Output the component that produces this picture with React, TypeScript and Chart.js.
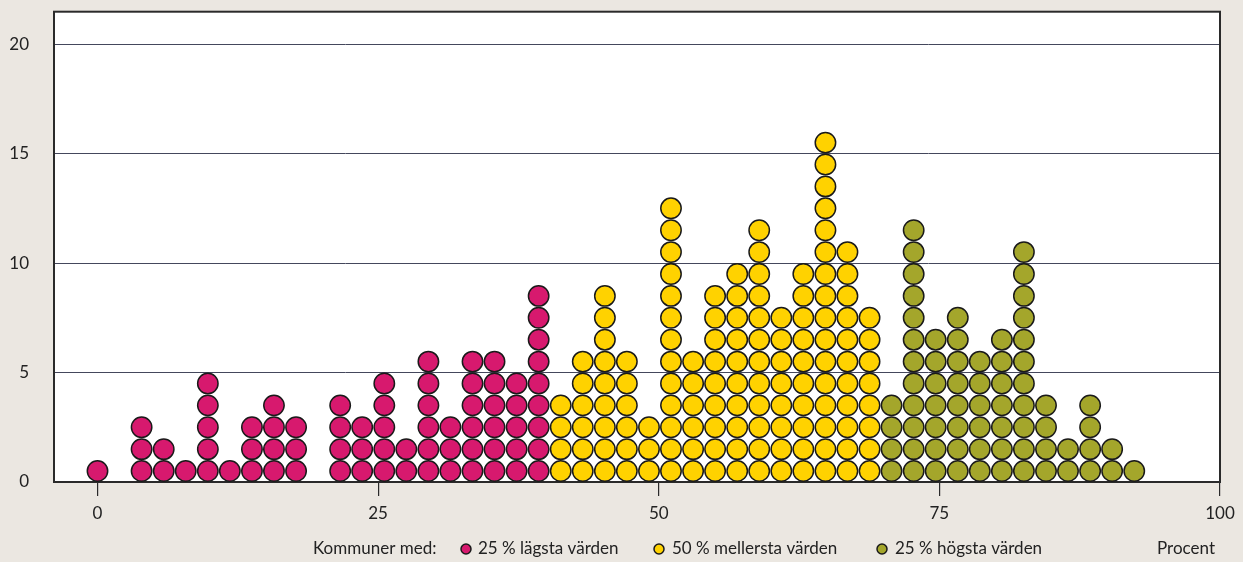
import React, { useEffect, useRef } from "react";
import { Chart, registerables } from "chart.js";

Chart.register(...registerables);

// Column positions (percent) and number of municipalities (dots) in each column
const lowX = [0, 3.93, 5.9, 7.86, 9.83, 11.79, 13.76, 15.72, 17.69, 21.62, 23.58, 25.55, 27.51, 29.48, 31.44, 33.41, 35.37, 37.34, 39.3];
const lowCounts = [1, 3, 2, 1, 5, 1, 3, 4, 3, 4, 3, 5, 2, 6, 3, 6, 6, 5, 9];

const midX = [41.27, 43.23, 45.2, 47.16, 49.13, 51.09, 53.06, 55.02, 56.99, 58.95, 60.92, 62.88, 64.85, 66.81, 68.78];
const midCounts = [4, 6, 9, 6, 3, 13, 6, 9, 10, 12, 8, 10, 16, 11, 8];

const highX = [70.74, 72.71, 74.67, 76.64, 78.6, 80.57, 82.53, 84.5, 86.46, 88.43, 90.39, 92.36];
const highCounts = [4, 12, 7, 8, 6, 7, 11, 4, 2, 4, 2, 1];

const xTicks = [0, 25, 50, 75, 100];
const yTicks = [0, 5, 10, 15, 20];

const legendTitle = "Kommuner med:";
const seriesLabels = ["25 % lägsta värden", "50 % mellersta värden", "25 % högsta värden"];
const unitLabel = "Procent";

const COLORS = ["#d7196e", "#ffd200", "#a4a62b"];
const BG = "#ebe7e1";
const FONT = "Lato";
const FS = 17;

function toDots(xs: number[], counts: number[]) {
  const pts: { x: number; y: number }[] = [];
  xs.forEach((x, i) => {
    for (let j = 0; j < counts[i]; j++) pts.push({ x, y: j + 0.5 });
  });
  return pts;
}

export default function App() {
  const ref = useRef<HTMLCanvasElement>(null);

  useEffect(() => {
    document.body.style.margin = "0";
    const canvas = ref.current;
    if (!canvas) return;

    const framePlugin = {
      id: "frame",
      beforeDraw(chart: any) {
        const { ctx, chartArea: a } = chart;
        ctx.save();
        ctx.fillStyle = "#ffffff";
        ctx.fillRect(a.left, a.top, a.right - a.left, a.bottom - a.top);
        ctx.restore();
      },
      beforeDatasetsDraw(chart: any) {
        const { ctx, chartArea: a } = chart;
        ctx.save();
        ctx.strokeStyle = "#2a2a2a";
        ctx.lineWidth = 2;
        ctx.strokeRect(a.left, a.top, a.right - a.left, a.bottom - a.top);
        ctx.restore();
      },
      afterDraw(chart: any) {
        const { ctx } = chart;
        ctx.save();
        ctx.font = `${FS}px ${FONT}`;
        ctx.fillStyle = "#222";
        ctx.textBaseline = "middle";
        const y = 549;
        ctx.textAlign = "left";
        ctx.fillText(legendTitle, 313, y);
        const dotX = [466, 659, 882];
        const textX = [478, 672, 895];
        seriesLabels.forEach((lab, i) => {
          ctx.beginPath();
          ctx.arc(dotX[i], y, 5, 0, Math.PI * 2);
          ctx.fillStyle = COLORS[i];
          ctx.fill();
          ctx.lineWidth = 1.5;
          ctx.strokeStyle = "#1a1a1a";
          ctx.stroke();
          ctx.fillStyle = "#222";
          ctx.fillText(lab, textX[i], y);
        });
        ctx.textAlign = "right";
        ctx.fillText(unitLabel, 1215, y);
        ctx.restore();
      },
    };

    const mk = (label: string, data: any[], color: string) => ({
      label,
      data,
      backgroundColor: color,
      borderColor: "#1a1a1a",
      borderWidth: 1.5,
      pointRadius: 10.2,
      pointHoverRadius: 10.2,
      pointStyle: "circle",
    });

    const chart: any = new Chart(canvas, {
      type: "scatter",
      data: {
        datasets: [
          mk(seriesLabels[0], toDots(lowX, lowCounts), COLORS[0]),
          mk(seriesLabels[1], toDots(midX, midCounts), COLORS[1]),
          mk(seriesLabels[2], toDots(highX, highCounts), COLORS[2]),
        ],
      },
      options: {
        responsive: false,
        animation: false,
        layout: { padding: { left: 0, right: 23, top: 11, bottom: 0 } },
        plugins: {
          legend: { display: false },
          tooltip: { enabled: false },
        },
        scales: {
          x: {
            type: "linear",
            min: -3.875,
            max: 100,
            afterBuildTicks(scale: any) {
              scale.ticks = xTicks.map((v) => ({ value: v }));
            },
            afterFit(scale: any) {
              scale.height = 80;
            },
            grid: {
              display: true,
              drawOnChartArea: false,
              drawTicks: true,
              tickLength: 14,
              color: "#2a2a2a",
              lineWidth: 1.2,
            },
            border: { display: false },
            ticks: {
              padding: 7,
              color: "#222",
              font: { family: FONT, size: FS },
              maxRotation: 0,
              callback: (v: any) => String(v),
            },
          },
          y: {
            type: "linear",
            min: 0,
            max: 21.48,
            afterBuildTicks(scale: any) {
              scale.ticks = yTicks.map((v) => ({ value: v }));
            },
            afterFit(scale: any) {
              scale.width = 54;
            },
            grid: {
              display: true,
              drawTicks: true,
              tickLength: 25,
              tickColor: "rgba(0,0,0,0)",
              color: "#44475c",
              lineWidth: 1,
            },
            border: { display: false },
            ticks: {
              padding: 0,
              color: "#222",
              font: { family: FONT, size: FS },
              callback: (v: any) => String(v),
            },
          },
        },
      },
      plugins: [framePlugin],
    });

    return () => chart.destroy();
  }, []);

  return (
    <div style={{ position: "fixed", left: 0, top: 0, width: 1243, height: 562, background: BG }}>
      <canvas ref={ref} width={1243} height={562} style={{ display: "block", width: 1243, height: 562 }} />
    </div>
  );
}
